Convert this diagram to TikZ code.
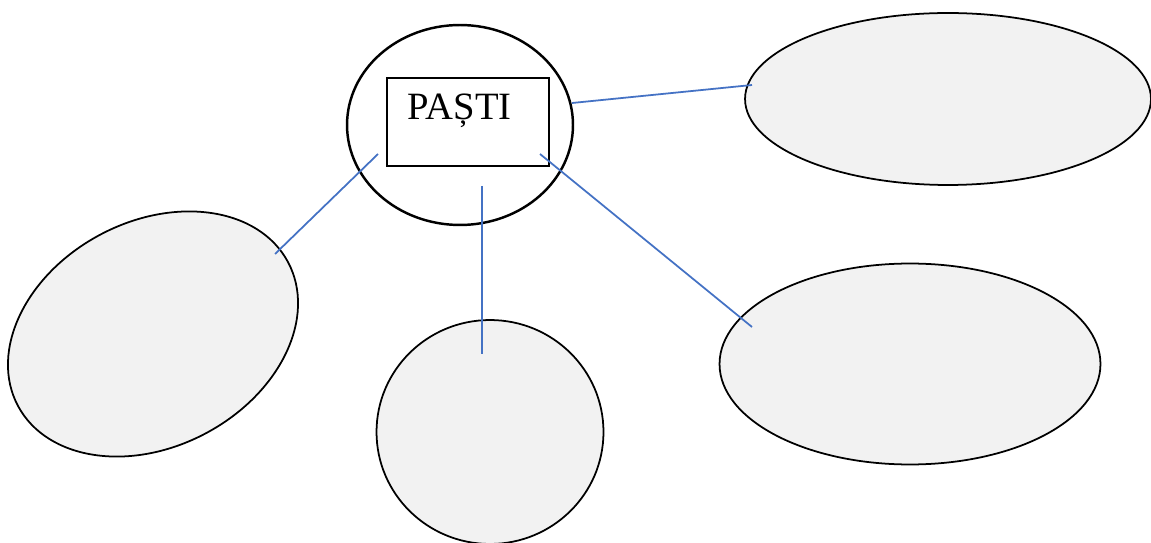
\documentclass[tikz,border=0pt]{standalone}
\usepackage{fontspec}
\setmainfont{Liberation Serif}
\usetikzlibrary{shapes.geometric}
\definecolor{bubblegray}{HTML}{F2F2F2}
\definecolor{linkblue}{HTML}{4472C4}
\begin{document}
\begin{tikzpicture}[x=0.02cm,y=-0.02cm,line width=1pt,
    main node/.style={ellipse,draw,line width=1.4pt,fill=white,inner sep=0pt},
    empty bubble/.style={ellipse,draw,fill=bubblegray,inner sep=0pt},
    title box/.style={rectangle,draw,line width=0.8pt,inner sep=0pt},
    link/.style={draw=linkblue,line width=1pt}]
                \useasboundingbox (0,0) rectangle (1151,543);
                \node[main node,minimum width=4.52cm,minimum height=4cm] at (460, 125) (hub) {};
                \node[title box,minimum width=3.24cm,minimum height=1.76cm] at (468, 122) (box) {};
                \node[anchor=base west,inner sep=0pt,font=\fontsize{22}{26}\selectfont] at (407, 120) (title) {PAȘTI};

                \node[empty bubble,minimum width=8.12cm,minimum height=3.44cm] at (948, 99) (tr) {};
                \node[empty bubble,minimum width=6.12cm,minimum height=4.5cm,rotate=28] at (153, 334) (bl) {};
                \node[empty bubble,minimum width=4.54cm,minimum height=4.48cm] at (490, 432) (bc) {};
                \node[empty bubble,minimum width=7.62cm,minimum height=4.02cm] at (910, 364) (br) {};

                \coordinate (hub-tr) at (572, 103);
                \coordinate (tr-in) at (752, 85);
                \coordinate (hub-bl) at (378, 154);
                \coordinate (bl-in) at (275, 254);
                \coordinate (hub-bc) at (482, 186);
                \coordinate (bc-in) at (482, 354);
                \coordinate (hub-br) at (540, 154);
                \coordinate (br-in) at (752, 327);

                \path[link]
                    (hub-tr) edge (tr-in)
                    (hub-bl) edge (bl-in)
                    (hub-bc) edge (bc-in)
                    (hub-br) edge (br-in)
                    ;
\end{tikzpicture}
\end{document}
